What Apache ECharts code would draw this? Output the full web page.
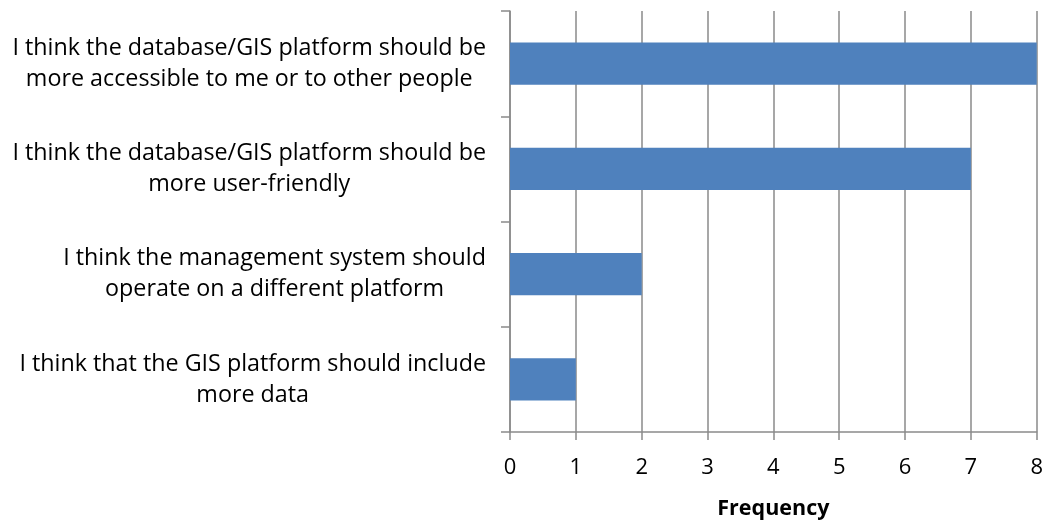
<!DOCTYPE html>
<html>
<head>
<meta charset="utf-8">
<script src="https://cdn.jsdelivr.net/npm/echarts@6/dist/echarts.min.js"></script>
<style>
  html, body { margin: 0; padding: 0; background: #ffffff; }
  #chart { width: 1046px; height: 525px; }
</style>
</head>
<body>
<div id="chart"></div>
<script>
// Survey responses, listed top to bottom
const categories = [
  'I think the database/GIS platform should be\nmore accessible to me or to other people',
  'I think the database/GIS platform should be\nmore user-friendly',
  'I think the management system should\noperate on a different platform',
  'I think that the GIS platform should include\nmore data'
];
const frequency = [8, 7, 2, 1];
const xTicks = [0, 1, 2, 3, 4, 5, 6, 7, 8];

const FONT = '"Open Sans", "Noto Sans", sans-serif';
const GRID_COLOR = '#8a8a8a';

const chart = echarts.init(document.getElementById('chart'), null, { renderer: 'canvas' });

chart.setOption({
  animation: false,
  backgroundColor: '#ffffff',
  grid: { left: 510, right: 9, top: 11, bottom: 91, containLabel: false },
  xAxis: {
    type: 'value',
    min: xTicks[0],
    max: xTicks[xTicks.length - 1],
    interval: 1,
    name: 'Frequency',
    nameLocation: 'middle',
    nameGap: 66,
    nameTextStyle: { fontFamily: FONT, fontSize: 21.5, fontWeight: 'bold', color: '#000' },
    axisLine: { show: true, lineStyle: { color: GRID_COLOR, width: 1.5 } },
    axisTick: { show: true, length: 8, lineStyle: { color: GRID_COLOR, width: 1.5 } },
    axisLabel: { fontFamily: FONT, fontSize: 22, color: '#000', margin: 25 },
    splitLine: { show: true, lineStyle: { color: GRID_COLOR, width: 1.5 } }
  },
  yAxis: {
    type: 'category',
    inverse: true,
    data: categories,
    axisLine: { show: true, lineStyle: { color: GRID_COLOR, width: 1.5 } },
    axisTick: { show: true, length: 9, lineStyle: { color: GRID_COLOR, width: 1.5 } },
    axisLabel: {
      margin: 24,
      align: 'right',
      formatter: function (v) {
        return v.split('\n').map(function (l) { return '{c|' + l + '}'; }).join('\n');
      },
      rich: {
        c: { fontFamily: FONT, fontSize: 23.3, color: '#000', align: 'center', lineHeight: 31 }
      }
    },
    splitLine: { show: false }
  },
  series: [{
    type: 'bar',
    data: frequency,
    barWidth: '40%',
    itemStyle: { color: '#4f81bd' },
    silent: true
  }]
});
</script>
</body>
</html>
